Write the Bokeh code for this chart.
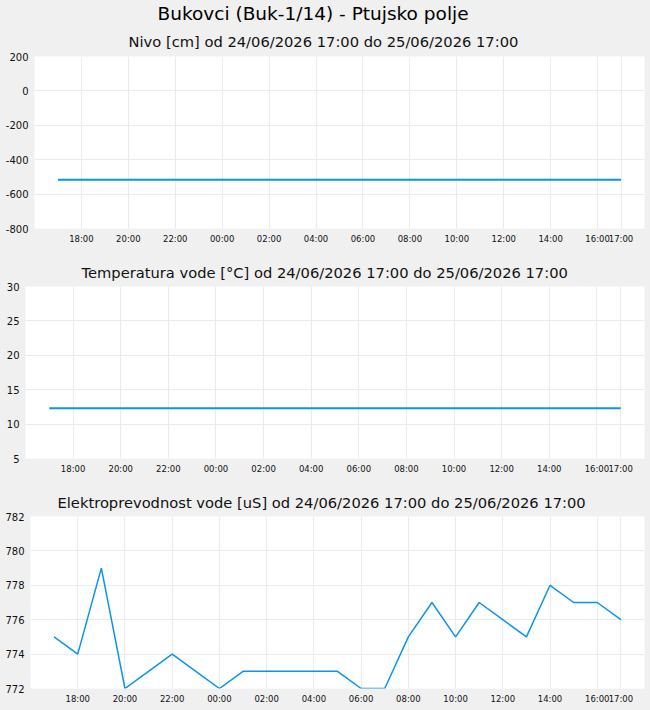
import pandas as pd
from bokeh.plotting import figure
from bokeh.models import (Title, FixedTicker, DatetimeTickFormatter, Range1d,
                          ColumnDataSource, PrintfTickFormatter)
from bokeh.embed import file_html
from bokeh.resources import INLINE

main_title = "Bukovci (Buk-1/14) - Ptujsko polje"
period = "od 24/06/2026 17:00 do 25/06/2026 17:00"
subtitles = ["Nivo [cm] " + period,
             "Temperatura vode [°C] " + period,
             "Elektroprevodnost vode [uS] " + period]

times = ["2026-06-24 17:00", "2026-06-24 18:00", "2026-06-24 19:00", "2026-06-24 20:00",
         "2026-06-24 21:00", "2026-06-24 22:00", "2026-06-24 23:00", "2026-06-25 00:00",
         "2026-06-25 01:00", "2026-06-25 02:00", "2026-06-25 03:00", "2026-06-25 04:00",
         "2026-06-25 05:00", "2026-06-25 06:00", "2026-06-25 07:00", "2026-06-25 08:00",
         "2026-06-25 09:00", "2026-06-25 10:00", "2026-06-25 11:00", "2026-06-25 12:00",
         "2026-06-25 13:00", "2026-06-25 14:00", "2026-06-25 15:00", "2026-06-25 16:00",
         "2026-06-25 17:00"]

level_cm = [-517, -517, -517, -517, -517, -517, -517, -517, -517, -517, -517, -517, -517,
            -517, -517, -517, -517, -517, -517, -517, -517, -517, -517, -517, -517]

temp_c = [12.3, 12.3, 12.3, 12.3, 12.3, 12.3, 12.3, 12.3, 12.3, 12.3, 12.3, 12.3, 12.3,
          12.3, 12.3, 12.3, 12.3, 12.3, 12.3, 12.3, 12.3, 12.3, 12.3, 12.3, 12.3]

cond_us = [775, 774, 779, 772, 773, 774, 773, 772, 773, 773, 773, 773, 773,
           772, 772, 775, 777, 775, 777, 776, 775, 778, 777, 777, 776]

x_ticks = ["2026-06-24 18:00", "2026-06-24 20:00", "2026-06-24 22:00", "2026-06-25 00:00",
           "2026-06-25 02:00", "2026-06-25 04:00", "2026-06-25 06:00", "2026-06-25 08:00",
           "2026-06-25 10:00", "2026-06-25 12:00", "2026-06-25 14:00", "2026-06-25 16:00",
           "2026-06-25 17:00"]
x_range_ends = ["2026-06-24 16:00", "2026-06-25 18:00"]

level_ticks = [-800, -600, -400, -200, 0, 200]
temp_ticks = [5, 10, 15, 20, 25, 30]
cond_ticks = [772, 774, 776, 778, 780, 782]


def to_ms(lst):
    t = pd.to_datetime(lst)
    return [int((v - pd.Timestamp("1970-01-01")) / pd.Timedelta(milliseconds=1)) for v in t]


t_ms = pd.to_datetime(times)
xt = to_ms(x_ticks)
xr = to_ms(x_range_ends)

LINE = "#0a95e8"
BG = "#f0f0f0"
GRID = "#ebebeb"
FONT = "DejaVu Sans"


def make_fig(sub, sub_off, ys, yticks, left, height, top, bottom, lw,
             main=None, main_off=0, sub_standoff=14):
    p = figure(width=650, height=height, x_axis_type="datetime",
               output_backend="svg", toolbar_location=None,
               x_range=Range1d(xr[0], xr[1]),
               y_range=Range1d(yticks[0], yticks[-1]),
               min_border_left=left, min_border_right=6,
               min_border_top=top, min_border_bottom=bottom,
               title=main if main else sub)
    p.background_fill_color = "white"
    p.border_fill_color = BG
    p.outline_line_color = None
    p.title.text_font = FONT
    p.title.text_font_style = "normal"
    p.title.align = "left"
    if main:
        p.title.text_font_size = "18.5px"
        p.title.text_color = "#000000"
        p.title.standoff = 0
        p.title.offset = main_off
        st = Title(text=sub, align="left", offset=sub_off, text_font=FONT,
                   text_font_size="14.7px", text_font_style="normal",
                   text_color="#111111", standoff=sub_standoff)
        p.add_layout(st, "above")
    else:
        p.title.text_font_size = "14.7px"
        p.title.text_color = "#111111"
        p.title.standoff = sub_standoff
        p.title.offset = sub_off
    src = ColumnDataSource(dict(t=t_ms, y=ys))
    p.line("t", "y", source=src, line_color=LINE, line_width=lw)
    p.xaxis.ticker = FixedTicker(ticks=xt)
    fmt = "%H:%M"
    p.xaxis.formatter = DatetimeTickFormatter(
        milliseconds=fmt, seconds=fmt, minsec=fmt, minutes=fmt, hourmin=fmt,
        hours=fmt, days=fmt, months=fmt, years=fmt)
    p.yaxis.ticker = FixedTicker(ticks=yticks)
    p.yaxis.formatter = PrintfTickFormatter(format="%d")
    for ax in (p.xaxis[0], p.yaxis[0]):
        ax.axis_line_color = None
        ax.major_tick_line_color = None
        ax.minor_tick_line_color = None
        ax.major_tick_out = 0
        ax.major_tick_in = 0
        ax.minor_tick_out = 0
        ax.minor_tick_in = 0
        ax.major_label_text_font = FONT
        ax.major_label_text_color = "#111111"
    p.xaxis.major_label_text_font_size = "8.5px"
    p.yaxis.major_label_text_font_size = "10px"
    p.xaxis.major_label_standoff = 5
    p.yaxis.major_label_standoff = 6
    p.xgrid.grid_line_color = GRID
    p.ygrid.grid_line_color = GRID
    return p


p1 = make_fig(subtitles[0], 94, level_cm, level_ticks, 34, 254, 56, 26, 2,
              main=main_title, main_off=123, sub_standoff=14)
p2 = make_fig(subtitles[1], 56, temp_c, temp_ticks, 25, 230, 32, 26, 2, sub_standoff=12)
p3 = make_fig(subtitles[2], 27, cond_us, cond_ticks, 30, 226, 32, 22, 1.5, sub_standoff=12)

html = file_html([p1, p2, p3], INLINE)
css = ("<style>html,body{margin:0;padding:0;background:#f0f0f0;}"
       "body{display:flex;flex-direction:column;}</style>")
html = html.replace("</head>", css + "</head>", 1)
open("out.html", "w").write(html)
